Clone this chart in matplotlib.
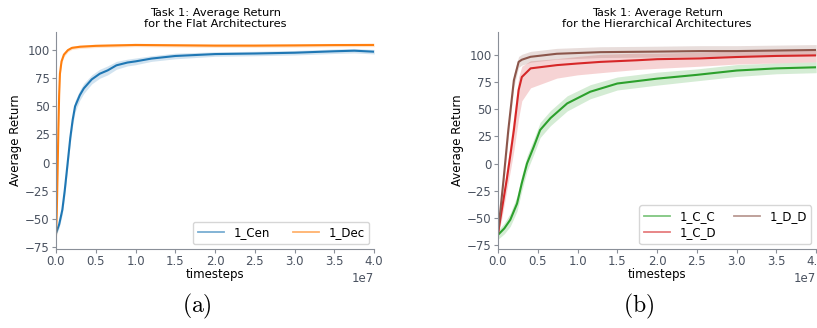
import matplotlib
matplotlib.use("Agg")
import matplotlib.pyplot as plt
import numpy as np
from matplotlib.lines import Line2D

# ---- data (x in units of 1e7 timesteps) ----
cen_x = [0, 0.04, 0.08, 0.11, 0.14, 0.18, 0.21, 0.24, 0.3, 0.35, 0.45, 0.55, 0.65,
         0.76, 0.9, 1.0, 1.2, 1.5, 2.0, 2.5, 3.0, 3.5, 3.75, 4.0]
cen_y = [-63, -55, -42, -25, -5, 22, 38, 50, 60, 66, 74, 79, 82,
         86.5, 89, 90, 92.5, 94.8, 96.5, 97, 97.7, 99, 99.5, 98.6]
cen_err = [2, 3, 4, 5, 5, 5, 5, 5, 4.5, 4.5, 4, 4, 4,
           3.5, 3, 3, 2.5, 2.5, 2, 2, 2, 2, 2, 2]

dec_x = [0, 0.01, 0.02, 0.03, 0.04, 0.05, 0.07, 0.1, 0.15, 0.2, 0.3, 0.5, 1.0,
         1.5, 2.0, 2.5, 3.0, 3.5, 4.0]
dec_y = [-66, -45, -10, 29, 60, 79, 90, 96, 100, 102, 103, 103.8, 104.6,
         104.3, 104, 104, 104.2, 104.5, 104.6]
dec_err = [2, 3, 4, 4, 3, 3, 2, 2, 1.5, 1.5, 1.5, 1.5, 1.5,
           1.5, 1.5, 1.5, 1.5, 1.5, 1.5]

cc_x = [0, 0.08, 0.155, 0.24, 0.3, 0.365, 0.45, 0.53, 0.66, 0.87, 1.16, 1.5,
        2.0, 2.5, 3.0, 3.5, 4.0]
cc_y = [-66, -60, -52, -37, -18, 0, 15.5, 31, 42, 55.6, 66.4, 74,
        78.5, 82, 86, 88, 89]
cc_err = [4, 5, 6, 7, 7, 7, 7, 7, 7, 7, 6.5, 6, 6, 5.5, 5.5, 5, 5]

cd_x = [0, 0.05, 0.11, 0.16, 0.2, 0.26, 0.3, 0.41, 0.74, 1.0, 1.29, 1.75,
        2.0, 2.54, 3.0, 3.5, 4.0]
cd_y = [-65, -42, -15, 10, 31, 68, 80, 88, 91, 92.5, 94, 95.5,
        96.5, 97.2, 98.5, 99.5, 100]
cd_lo = [-67, -50, -25, -5, 12, 42, 58, 70, 79, 82, 84, 87,
         88, 90, 92, 93, 94]
cd_hi = [-63, -35, -5, 22, 45, 80, 90, 95, 97, 99, 101, 102,
         102, 103, 104, 105, 105]

dd_x = [0, 0.07, 0.13, 0.2, 0.26, 0.3, 0.41, 0.74, 1.29, 2.0, 2.54, 3.0, 3.5, 4.0]
dd_y = [-65, -15, 31, 77, 94, 96, 98.7, 101.5, 103, 103.5, 104, 104, 104.5, 105]
dd_err = [3, 6, 7, 6, 5, 5, 5, 5, 5, 5, 5, 5, 5, 5]

SCALE = 1e7
TICKC = "#4a5260"
SPINEC = "#8a8f98"

fig = plt.figure(figsize=(8.17, 3.28), dpi=100)
ax1 = fig.add_axes([0.0685, 0.241, 0.3895, 0.661])
ax2 = fig.add_axes([0.6095, 0.241, 0.3895, 0.661])


def band(ax, x, y, lo, hi, color, lw=1.5):
    x = np.array(x) * SCALE
    ax.fill_between(x, lo, hi, color=color, alpha=0.2, linewidth=0)
    ax.plot(x, y, color=color, lw=lw)


band(ax1, cen_x, cen_y, np.subtract(cen_y, cen_err), np.add(cen_y, cen_err), "#1f77b4")
band(ax1, dec_x, dec_y, np.subtract(dec_y, dec_err), np.add(dec_y, dec_err), "#ff7f0e")

band(ax2, cc_x, cc_y, np.subtract(cc_y, cc_err), np.add(cc_y, cc_err), "#2ca02c")
band(ax2, cd_x, cd_y, cd_lo, cd_hi, "#d62728")
band(ax2, dd_x, dd_y, np.subtract(dd_y, dd_err), np.add(dd_y, dd_err), "#8c564b")

titles = ["Task 1: Average Return\nfor the Flat Architectures",
          "Task 1: Average Return\nfor the Hierarchical Architectures"]
for ax, t, ylim in [(ax1, titles[0], (-76.8, 116)), (ax2, titles[1], (-79, 121.5))]:
    ax.set_xlim(0, 4.0 * SCALE)
    ax.set_ylim(*ylim)
    ax.set_xticks(np.arange(0, 4.01, 0.5) * SCALE)
    ax.set_yticks([-75, -50, -25, 0, 25, 50, 75, 100])
    ax.set_title(t, fontsize=8.2, pad=4, linespacing=1.1)
    ax.set_xlabel("timesteps", fontsize=8.5, labelpad=0)
    ax.set_ylabel("Average Return", fontsize=8.5, labelpad=2)
    ax.spines["top"].set_visible(False)
    ax.spines["right"].set_visible(False)
    for s in ("left", "bottom"):
        ax.spines[s].set_color(SPINEC)
    ax.tick_params(labelsize=8.5, colors=SPINEC, labelcolor=TICKC, length=3, pad=1.5)
    ax.xaxis.get_offset_text().set_fontsize(8.5)
    ax.xaxis.get_offset_text().set_color(TICKC)

h1 = [Line2D([], [], color="#1f77b4", alpha=0.6, lw=1.3),
      Line2D([], [], color="#ff7f0e", alpha=0.6, lw=1.3)]
ax1.legend(h1, ["1_Cen", "1_Dec"], loc="lower right", ncol=2, fontsize=8.5,
           handlelength=2.2, columnspacing=2.0, borderaxespad=0.4)

h2 = [Line2D([], [], color="#2ca02c", alpha=0.6, lw=1.3),
      Line2D([], [], color="#d62728", alpha=0.6, lw=1.3),
      Line2D([], [], color="#8c564b", alpha=0.6, lw=1.3)]
ax2.legend(h2, ["1_C_C", "1_C_D", "1_D_D"], loc="lower right", ncol=2, fontsize=8.5,
           handlelength=2.2, columnspacing=1.5, borderaxespad=0.4, labelspacing=0.3)

plt.rcParams["mathtext.fontset"] = "cm"
fig.text(0.241, 0.02, r"$\mathrm{(a)}$", fontsize=17, ha="center", va="bottom")
fig.text(0.782, 0.02, r"$\mathrm{(b)}$", fontsize=17, ha="center", va="bottom")

fig.savefig("out.png", dpi=100, facecolor="white")
